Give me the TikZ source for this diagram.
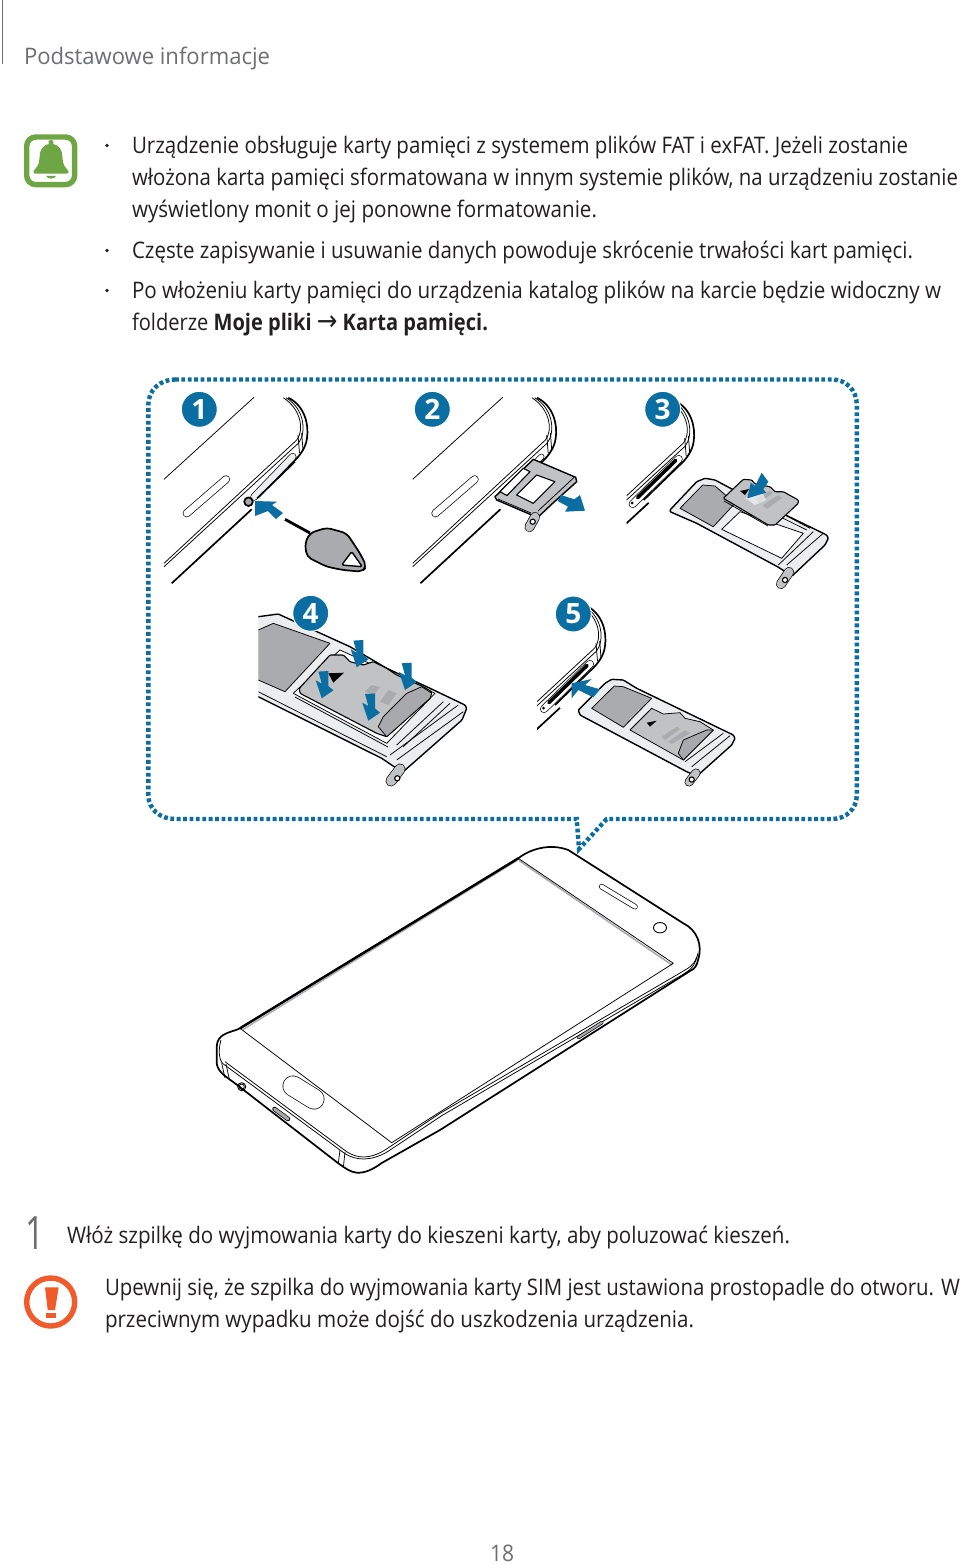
\documentclass[tikz,border=0pt]{standalone}
\usepackage{fontspec}
\usepackage{graphicx}
\setmainfont{Open Sans}
\newfontfamily\arrowfont{DejaVu Sans}
\definecolor{ink}{HTML}{231F20}
\definecolor{headgrey}{HTML}{6D6E71}
\definecolor{stepblue}{HTML}{0B6EA3}
\definecolor{bellgreen}{HTML}{6FA644}
\definecolor{warnred}{HTML}{F15A2B}
\definecolor{simgrey}{HTML}{A9ABAE}
\definecolor{cardgrey}{HTML}{C0C2C4}
\definecolor{traygrey}{HTML}{ECEDEE}
\definecolor{darkcard}{HTML}{A7A9AC}
\tikzset{
  textline/.style={anchor=base west,inner sep=0pt,outer sep=0pt,text=ink,font=\fontsize{22.8}{28}\selectfont},
  headline/.style={textline,text=headgrey},
  thinline/.style={draw=black,line width=0.75pt,line join=round},
  midline/.style={draw=black,line width=1.1pt,line join=round},
  thickline/.style={draw=black,line width=1.7pt,line join=round},
  badge/.style={circle,fill=stepblue,draw=white,line width=1pt,minimum size=36pt,inner sep=0pt,text=white,font=\fontsize{28}{28}\selectfont\bfseries},
  bluearrow/.style={fill=stepblue,draw=none},
  dotborder/.style={draw=stepblue,line width=4.4pt,dash pattern=on 3.8pt off 2.6pt,line join=miter}
}
\newcommand\tline[6][textline]{\node[#1] (#2) at (#3,#4) {\resizebox{#5pt}{\height}{#6}};}
% rounded slot: x1 y1 x2 y2 width fill
\newcommand\pill[6]{%
  \draw[black,line cap=round,line width=#5pt] (#1,#2)--(#3,#4);
  \draw[#6,line cap=round,line width=#5pt-1.4pt] (#1,#2)--(#3,#4);}
\newcommand\dnarrow[2]{\fill[bluearrow,shift={(#1pt,-#2pt)}] (-3.3,-26.7)--(6.7,-27.3)--(6.7,-12.3)--(11.7,-8)--(0,0)--(-6,-18)--(0,-14.7)--cycle;}
% device corner in the coordinates of panel 1
\newcommand\devcorner{%
  \draw[thinline] (164,563.3)--(296.7,440) .. controls (304,431) and (302,410) .. (283.3,397.7);
  \draw[thinline] (164,566.7)--(298.3,443.3) .. controls (306,434) and (306,410) .. (286,397.7);
  \draw[thickline] (288.3,397.7) .. controls (305,406) and (309,425) .. (307,438) .. controls (306,448) and (299,457) .. (291.7,463.3)--(257,497);
  \draw[thickline] (171.7,583.3)--(251.7,509.3);
  \draw[thinline] (298,435)--(299.5,453);
  \draw[thinline] (301.7,433)--(303,450);}
\newcommand\devfront{%
  \draw[thinline] (164,479.3)--(254,397.3);
  \pill{186.7}{513.3}{226}{479.3}{8}{white}}
\newcommand\openslot{%
  \draw[thickline] (251.7,509.3)--(262,499.8);
  \pill{246}{501}{292}{456}{8}{white}
  \draw[black,line cap=round,line width=3.6pt] (251,494.5)--(289,457.5);
  \fill[black] (245.5,500) circle[radius=1.5];}
\newcommand\ringhandle[7]{%x1 y1 x2 y2 w hx hy
  \pill{#1}{#2}{#3}{#4}{#5}{cardgrey}
  \draw[thinline,fill=white,line width=1.1pt] (#6,#7) circle[radius=2.6];}
\begin{document}
\begin{tikzpicture}[x=1pt,y=-1pt]
\useasboundingbox (0,0) rectangle (960,1564);
\fill[white] (0,0) rectangle (960,1564);
% header
\draw[headgrey,line width=1.1pt] (2.5,0)--(2.5,64);
\tline[headline]{hdr}{24}{64}{246}{Podstawowe informacje}
% note icon
\draw[bellgreen,line width=5.4pt,rounded corners=9pt] (26.7,137)rectangle(74.6,184.6);
\fill[bellgreen] (51,142.5) circle[radius=2.6];
\fill[bellgreen] (51,144) .. controls (42,144) and (39.5,151) .. (39.5,158) .. controls (39.5,165) and (36,168) .. (33.5,171) .. controls (33,173) and (34,173.5) .. (35,173.5) -- (67,173.5) .. controls (68,173.5) and (69,173) .. (68.5,171) .. controls (66,168) and (62.5,165) .. (62.5,158) .. controls (62.5,151) and (60,144) .. (51,144)--cycle;
\fill[bellgreen] (46,175.8) .. controls (47,179.5) and (55,179.5) .. (56,175.8)--cycle;
% notes
\fill[ink] (107,145.5) circle[radius=1.8];
\fill[ink] (107,250.5) circle[radius=1.8];
\fill[ink] (107,290.5) circle[radius=1.8];
\tline{n1}{132}{153}{776}{Urządzenie obsługuje karty pamięci z systemem plików FAT i exFAT. Jeżeli zostanie}
\tline{n2}{132}{185}{826}{włożona karta pamięci sformatowana w innym systemie plików, na urządzeniu zostanie}
\tline{n3}{132}{217}{465}{wyświetlony monit o jej ponowne formatowanie.}
\tline{n4}{132}{258}{781}{Częste zapisywanie i usuwanie danych powoduje skrócenie trwałości kart pamięci.}
\tline{n5}{132}{298}{809}{Po włożeniu karty pamięci do urządzenia katalog plików na karcie będzie widoczny w}
\tline{n6}{132}{330}{356}{folderze \textbf{Moje pliki} {\arrowfont\fontsize{28}{28}\selectfont →} \textbf{Karta pamięci.}}
% callout border
\draw[dotborder] (175,379.5)--(832,379.5) .. controls (846,379.5) and (856.8,390) .. (856.8,405)--(856.8,795) .. controls (856.8,809) and (846,819) .. (832,819)--(606.7,819)--(579,849)--(576.7,819)--(175,819) .. controls (160,819) and (148.3,809) .. (148.3,795)--(148.3,405) .. controls (148.3,390) and (160,379.5) .. (175,379.5)--cycle;
% ===== panel 1
\devfront
\devcorner
\pill{254}{497}{292.7}{456.7}{7.5}{traygrey}
\draw[thickline] (257,498.5)--(295,461.5);
\draw[thickline,fill=darkcard] (248.5,501.7) circle[radius=4.3];
\fill[bluearrow] (255,501)--(277,501.7)--(272,505)--(283,513)--(276,519)--(268,511)--(255,516)--cycle;
\draw[black,line width=2.8pt] (285,519.3)--(310,533);
\draw[midline,fill=simgrey,line width=1.7pt,rounded corners=5pt] (310,533)--(326.7,527.7)--(346.7,533.3)--(360,553.3)--(366.7,566.7)--(361.7,571.7)--(343,570)--(326.7,566.7)--(306.7,556.7)--(305,543)--cycle;
\draw[midline,fill=white,line width=1.4pt,rounded corners=1.5pt] (351.7,551.7)--(362.3,566.7)--(341.7,565)--cycle;
% ===== panel 2
\begin{scope}[shift={(248.7pt,0pt)}]
\devfront
\devcorner
\pill{254}{497}{292.7}{456.7}{6}{white}
\end{scope}
\draw[midline,fill=cardgrey,line width=1.4pt] (495,496.7)--(533.3,459.3)--(575.7,477.3)--(576.7,481.7)--(553,503)--(535,520)--(531.7,515)--(496.7,500)--cycle;
\draw[midline,fill=white] (500,491.7)--(523.3,468.3)--(530,471.7)--(507,495.5)--cycle;
\draw[midline,fill=white] (516.7,495)--(536.7,475)--(555,481.7)--(533.3,503.3)--cycle;
\draw[thinline] (538,511)--(574,477.5);
\draw[thinline] (498,499)--(531,513);
\ringhandle{529.5}{527}{535}{517}{10}{532.7}{521.7}
\fill[bluearrow] (585,510.7)--(580,495)--(574.3,499.3)--(561,495)--(557.7,501)--(568,506.7)--(565,511.7)--cycle;
% ===== panel 3
\begin{scope}
\clip (626.7,395) rectangle (720,530);
\begin{scope}[shift={(386.7pt,-3pt)}]
\devcorner
\openslot
\end{scope}
\end{scope}
\draw[midline,fill=traygrey,line width=1.4pt,rounded corners=1pt] (670,510)--(696.7,481.7)--(705,478.3)--(715,480)--(730,488)--(826.7,535)--(828.3,538.3)--(825,545)--(792,576)--(778,567)--(696.7,523.3)--(670,511.7)--cycle;
\draw[thinline,fill=simgrey] (680,508.3)--(702.7,485)--(715,486)--(735,503.3)--(713.3,526.7)--cycle;
\draw[thinline,fill=white] (721.7,529.3)--(740,511.7)--(803.3,533.3)--(781.7,558.3)--cycle;
\draw[thinline] (778.3,565)--(813.3,531.7);
\draw[thinline] (786.7,565)--(823.3,533.3);
\draw[thinline] (780,516.7)--(806.7,530);
\draw[thinline] (785,515)--(810,528.3);
\ringhandle{781}{584}{789}{572}{10}{785}{580}
\draw[midline,fill=cardgrey,rounded corners=1pt] (723.3,498.3)--(743.3,479.3)--(751.7,480)--(755,484)--(770,486.7)--(775,491.7)--(783.3,491.7)--(798.3,500)--(798.3,503.3)--(775,525)--(768.3,525)--cycle;
\draw[thinline] (724,501)--(768,526);
\fill[black] (740,491)--(749,489)--(745,495)--cycle;
\fill[simgrey] (755,499)--(769,491)--(773,493)--(759,503)--cycle;
\fill[simgrey] (763,505)--(778,495)--(782,498)--(767,509)--cycle;
\fill[white,opacity=.6] (745,498)--(762,492)--(766,500)--(755,505)--cycle;
\fill[bluearrow] (761.7,472.7)--(768.3,481.7)--(763.3,489.3)--(766,492.7)--(747.3,498.3)--(750.7,482.7)--(755,486)--cycle;
% ===== panel 4
\begin{scope}
\clip (258.3,600) rectangle (480,800);
\draw[midline,fill=traygrey,line width=1.4pt,rounded corners=1pt] (258.3,616.7)--(278.3,614)--(295,621.7)--(350,646.7)--(386.7,668.3)--(426.7,686.7)--(465,705)--(466.7,708.3)--(462,720)--(404,771)--(396,768)--(381.7,758.3)--(258.3,696.7);
\draw[thinline] (258.3,691.7)--(386.7,756.7);
\draw[thinline,fill=simgrey] (258.3,630)--(273.3,623.3)--(330,643.3)--(285,691.7)--(258.3,680);
\end{scope}
\draw[thinline,fill=white] (293.3,693.3)--(386.7,743.3)--(435,693.3)--(340,650)--cycle;
\draw[thinline] (295,697)--(388,747);
\draw[thinline] (396.7,745)--(443.3,701.7);
\draw[thinline] (403.3,746.7)--(450,703.3);
\draw[thinline] (390,755)--(458.3,705);
\draw[thinline] (396.7,760)--(463.3,711.7);
\ringhandle{391}{781}{400}{769}{11}{397.3}{778.3}
\draw[midline,fill=cardgrey,rounded corners=1pt] (299.3,688.3)--(330,655)--(343.3,655)--(350,661.7)--(363.3,665)--(373.3,661.7)--(386.7,668.3)--(396.7,675)--(423.3,686.7)--(431.7,691.7)--(430,698.3)--(386.7,736.7)--(376.7,733.3)--(300,693.3)--cycle;
\draw[thinline,fill=darkcard] (378.3,726.7)--(383.3,716.7)--(406.7,693.3)--(421.7,686.7)--(431.7,693.3)--(430,698.3)--(386.7,736.7)--cycle;
\fill[black] (328.3,673.3)--(344,672.7)--(333.3,682.7)--cycle;
\fill[simgrey] (365,691.7)--(371.7,685)--(380,687.3)--(373.3,695)--cycle;
\fill[simgrey] (380,701.7)--(388.3,690)--(396.7,693.3)--(388.3,705)--cycle;
\dnarrow{356.7}{667.3}
\dnarrow{321.7}{698.3}
\dnarrow{368.3}{720.7}
\dnarrow{405}{690}
% ===== panel 5
\begin{scope}
\clip (537,595) rectangle (620,730);
\begin{scope}[shift={(298pt,-208pt)}]
\devcorner
\openslot
\end{scope}
\end{scope}
\draw[midline,fill=traygrey,line width=1.4pt,rounded corners=1pt] (578.3,710)--(605,683.3)--(611.7,679.3)--(623.3,680)--(636.7,688.3)--(733.3,735)--(735,738.3)--(731.7,745)--(697,776)--(686.7,771.7)--(580,715)--cycle;
\draw[thinline,fill=simgrey] (591.7,708.3)--(614.3,686)--(623.3,686.7)--(651.7,698.3)--(623.3,727.3)--cycle;
\draw[thinline,fill=cardgrey] (630,730)--(651.7,708.3)--(663.3,714)--(680,712.7)--(685,718.3)--(700,721.7)--(713.3,730)--(683.3,760)--cycle;
\draw[thinline,fill=darkcard] (678.3,753.3)--(683.3,740)--(706.7,730)--(713.3,730)--(683.3,760)--cycle;
\draw[thinline] (685,761.7)--(723.3,733.3);
\draw[thinline] (691.7,766.7)--(730,735.7);
\fill[black] (646.7,722.7)--(656.7,720.7)--(650,726.7)--cycle;
\fill[simgrey] (661.7,736.7)--(676.7,726.7)--(680,729)--(665,740)--cycle;
\fill[simgrey] (668.3,741.7)--(685,730)--(690,733.3)--(671.7,744)--cycle;
\ringhandle{689}{782}{696}{773}{9}{691.7}{779.5}
\fill[bluearrow] (571.7,683.3)--(591.7,679)--(585,685)--(600,689.3)--(593.3,697.3)--(578.3,690)--(571.7,698.3)--cycle;
% badges
\node[badge] (b1) at (199.3,409.3) {1};
\node[badge] (b2) at (432.3,409.3) {2};
\node[badge] (b3) at (662.7,409.3) {3};
\node[badge] (b4) at (310.7,613.3) {4};
\node[badge] (b5) at (573.3,614) {5};
% ===== phone
\draw[thickline,fill=white,line width=1.7pt] (518.3,858.3) .. controls (530,849) and (550,843) .. (568.3,850)--(683.3,923.3) .. controls (697,930) and (703,945) .. (698,960) .. controls (697,965) and (695,969) .. (690,971)--(440,1130)--(381.7,1163) .. controls (372,1170) and (365,1173) .. (356.7,1172.7) .. controls (350,1172) and (345,1168) .. (338.3,1163.3)--(235,1083.3) .. controls (225,1076) and (218,1072) .. (216.7,1063.3)--(216.7,1046.7) .. controls (217,1040) and (220,1037) .. (223.3,1035) .. controls (230,1031) and (235,1031) .. (240,1028.3)--cycle;
\draw[simgrey,line width=1.6pt] (519,860.5)--(672,965);
\draw[simgrey,line width=1.4pt] (517,860.5)--(243,1029.5);
\draw[thickline,line width=2.4pt] (240,1028.3)--(518.3,858.3);
\draw[thinline] (518.3,858.3)--(673.3,963.3)--(391.7,1142.7)--(240,1028.3);
\draw[thinline] (696.7,956.7) .. controls (694,966) and (688,968) .. (680,973)--(440,1113.3)--(385,1150) .. controls (370,1159) and (358,1159) .. (346.7,1151.7)--(225,1061.7);
\draw[thinline] (698,953) .. controls (695,967) and (690,970) .. (682,975)--(442,1115.5)--(387,1152) .. controls (371,1161) and (357,1161) .. (345,1153.7)--(223,1063.7) .. controls (219,1060) and (218,1050) .. (221,1040);
\draw[thinline] (221.7,1063.3)--(225,1078);
\draw[thinline] (226,1064)--(229.5,1080);
\draw[thinline] (340,1150)--(338.3,1163.3);
\draw[thinline] (345,1152)--(343.5,1166);
\pill{601.7}{886.7}{635}{906.7}{5.5}{white}
\draw[thinline,line width=0.9pt] (660,927.7) ellipse[x radius=6.5,y radius=5.2];
\pill{293}{1086}{314}{1099}{21}{white}
\draw[thinline,line width=0.9pt] (241.7,1086.7) circle[radius=4];
\draw[thinline] (241.7,1086.7) circle[radius=2.6];
\pill{274.5}{1109}{288}{1119}{4.5}{darkcard}
\pill{578.5}{1037.5}{602}{1022.5}{3.5}{darkcard}
% step
\tline[headline]{stepnum}{25}{1249}{19}{\fontsize{46}{46}\selectfont 1}
\tline{s1}{67}{1243}{723}{Włóż szpilkę do wyjmowania karty do kieszeni karty, aby poluzować kieszeń.}
% warning
\draw[warnred,line width=5.4pt] (50.7,1302) circle[radius=24];
\fill[warnred] (45,1287.3)--(58.7,1287.3)--(55,1310)--(47.7,1310)--cycle;
\fill[warnred] (46,1312.7) rectangle (56,1318.3);
\tline{w1}{105}{1295}{855}{Upewnij się, że szpilka do wyjmowania karty SIM jest ustawiona prostopadle do otworu. W}
\tline{w2}{105}{1327}{589}{przeciwnym wypadku może dojść do uszkodzenia urządzenia.}
\tline[headline]{pg}{490}{1561}{24}{18}
\end{tikzpicture}
\end{document}
